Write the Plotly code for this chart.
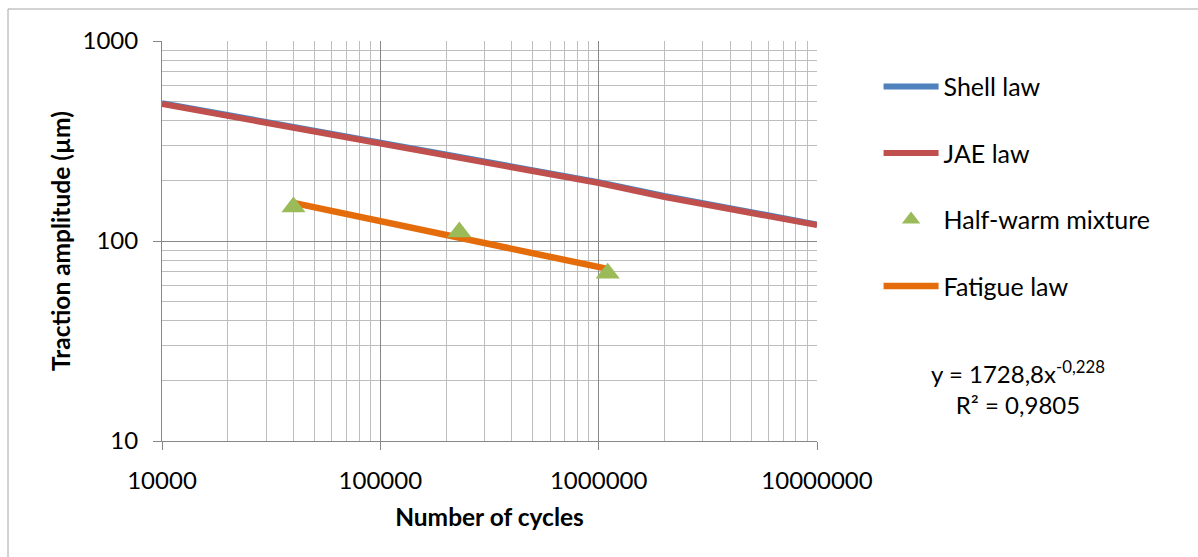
import plotly.graph_objects as go

# Data
law_cycles = [10000, 100000, 1000000, 2000000, 10000000]
shell_law = [489, 310, 197, 168, 121]
jae_law = [484, 307, 195, 166, 120]

mix_cycles = [40000, 230000, 1100000]
mix_amplitude = [148, 111, 69]

fatigue_cycles = [40000, 1100000]
fatigue_amplitude = [155, 72.5]

x_ticks = [10000, 100000, 1000000, 10000000]
x_ticktext = ["10000", "100000", "1000000", "10000000"]
y_ticks = [10, 100, 1000]
y_ticktext = ["10", "100", "1000"]

FONT = "Lato"
MAJOR = "#878787"
MINOR = "#bdbdbd"

fig = go.Figure()
fig.add_trace(go.Scatter(x=law_cycles, y=shell_law, mode="lines", name="Shell law",
                         line=dict(color="#4F81BD", width=6), legendgroup="a", legendrank=1))
fig.add_trace(go.Scatter(x=law_cycles, y=jae_law, mode="lines", name="JAE law",
                         line=dict(color="#C0504D", width=6), legendgroup="b", legendrank=2))
fig.add_trace(go.Scatter(x=fatigue_cycles, y=fatigue_amplitude, mode="lines", name="Fatigue law",
                         line=dict(color="#E46C0A", width=6.5), legendgroup="d", legendrank=4))
fig.add_trace(go.Scatter(x=mix_cycles, y=mix_amplitude, mode="markers", name="Half-warm mixture",
                         marker=dict(symbol="triangle-up", size=21, color="#9BBB59"),
                         legendgroup="c", legendrank=3))

def minor_vals(lo, hi):
    out = []
    d = lo
    while d < hi:
        for k in range(2, 10):
            out.append(d * k)
        d *= 10
    return out

fig.update_layout(
    width=1198, height=557,
    margin=dict(l=162, r=381, t=41, b=116),
    paper_bgcolor="white", plot_bgcolor="white",
    font=dict(family=FONT, size=24, color="#000000"),
    showlegend=True,
    legend=dict(x=1.094, xanchor="left", y=0.943, yanchor="top",
                font=dict(size=25, family=FONT), tracegroupgap=31,
                traceorder="grouped", itemwidth=55, bgcolor="rgba(0,0,0,0)"),
    xaxis=dict(type="log", range=[4, 7], tickvals=x_ticks, ticktext=x_ticktext,
               showline=True, linecolor=MAJOR, linewidth=1, mirror=False,
               showgrid=True, gridcolor=MAJOR, gridwidth=1,
               ticks="outside", ticklen=8, tickcolor=MAJOR, ticklabelstandoff=10,
               minor=dict(tickvals=minor_vals(1e4, 1e7), showgrid=True, gridcolor=MINOR, gridwidth=1, ticks=""),
               tickfont=dict(size=24, family=FONT), zeroline=False,
               title=dict(text="<b>Number of cycles</b>", font=dict(size=24.5, family=FONT), standoff=16)),
    yaxis=dict(type="log", range=[1, 3], tickvals=y_ticks, ticktext=y_ticktext,
               showline=True, linecolor=MAJOR, linewidth=1,
               showgrid=True, gridcolor=MAJOR, gridwidth=1,
               ticks="outside", ticklen=8, tickcolor=MAJOR, ticklabelstandoff=10,
               minor=dict(tickvals=minor_vals(10, 1000), showgrid=True, gridcolor=MINOR, gridwidth=1, ticks=""),
               tickfont=dict(size=24, family=FONT), zeroline=False,
               title=dict(text="<b>Traction amplitude (µm)</b>", font=dict(size=24.5, family=FONT), standoff=4)),
)

fig.add_annotation(xref="paper", yref="paper", x=1.307, y=0.135, xanchor="center", yanchor="middle",
                   text="y = 1728,8x<sup>-0,228</sup><br>R² = 0,9805", showarrow=False,
                   font=dict(size=24, family=FONT), align="center")

# outer chart border (left/top visible in reference)
fig.add_shape(type="rect", xref="paper", yref="paper",
              x0=(8 - 162) / 655, x1=(1240 - 162) / 655, y0=(441 - 600) / 400, y1=(441 - 9) / 400,
              line=dict(color="#a6a6a6", width=1), fillcolor="rgba(0,0,0,0)", layer="below")

fig.write_html("out.html")
